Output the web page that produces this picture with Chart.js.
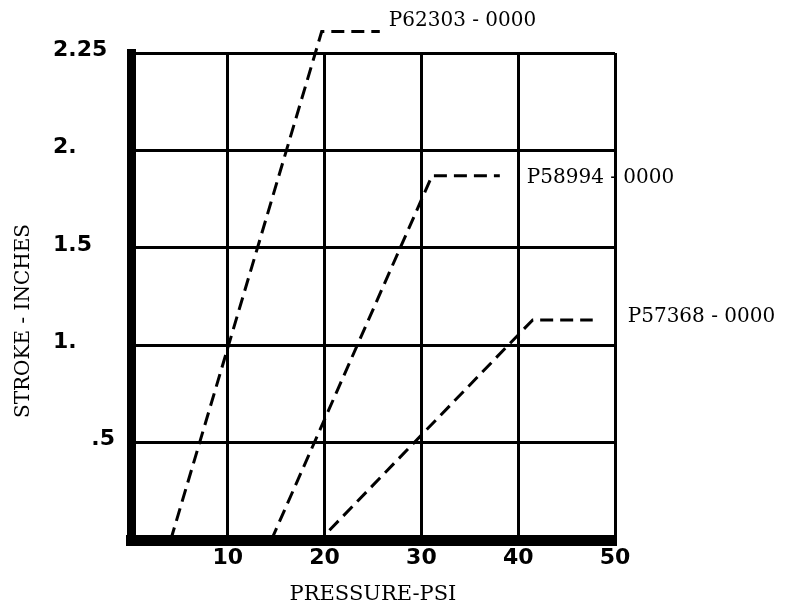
<!DOCTYPE html>
<html><head><meta charset="utf-8">
<script src="https://cdn.jsdelivr.net/npm/chart.js@4/dist/chart.umd.min.js"></script>
<style>html,body{margin:0;padding:0;background:#fff}canvas{display:block}</style>
</head><body>
<canvas id="c" width="787" height="614"></canvas>
<script>
// ---- data ----
const seriesNames = ['P62303 - 0000', 'P58994 - 0000', 'P57368 - 0000'];
const p62303Pressure = [4.1, 19.7, 25.7];
const p62303Stroke   = [0, 2.61, 2.61];
const p58994Pressure = [14.5, 31.1, 38.1];
const p58994Stroke   = [0, 1.87, 1.87];
const p57368Pressure = [20.5, 41.5, 47.7];
const p57368Stroke   = [0.05, 1.13, 1.13];
const xTickValues = [0, 10, 20, 30, 40, 50];
const xTickLabels = ['', '10', '20', '30', '40', '50'];
const yTickValues = [0, 0.5, 1, 1.5, 2, 2.5];
const yTickLabels = ['', '.5', '1.', '1.5', '2.', '2.25'];
const xTitle = 'PRESSURE-PSI';
const yTitle = 'STROKE - INCHES';

function toPoints(xs, ys) { return xs.map((x, i) => ({ x: x, y: ys[i] })); }

const seriesData = [
  toPoints(p62303Pressure, p62303Stroke),
  toPoints(p58994Pressure, p58994Stroke),
  toPoints(p57368Pressure, p57368Stroke)
];

const whiteBg = {
  id: 'whiteBg',
  beforeDraw(chart) {
    const c = chart.ctx; c.save(); c.fillStyle = '#fff';
    c.fillRect(0, 0, chart.width, chart.height); c.restore();
  }
};

const seriesLabels = {
  id: 'seriesLabels',
  afterDatasetsDraw(chart, args, opts) {
    const c = chart.ctx;
    c.save();
    c.font = opts.font;
    c.fillStyle = '#000';
    c.textAlign = 'left';
    c.textBaseline = 'middle';
    chart.data.datasets.forEach((ds, i) => {
      const pts = chart.getDatasetMeta(i).data;
      const last = pts[pts.length - 1];
      const off = opts.offsets[i];
      c.fillText(ds.label, last.x + off[0], last.y + off[1]);
    });
    // vertical axis title
    const a = chart.chartArea;
    c.translate(opts.yTitleX, a.bottom - opts.yTitleFromBottom);
    c.rotate(-Math.PI / 2);
    c.textAlign = 'center';
    c.fillText(yTitle, 0, 0);
    c.restore();
  }
};

const dashStyle = { borderColor: '#000', borderWidth: 3, borderDash: [13, 7], pointRadius: 0, tension: 0, fill: false, clip: false };

new Chart(document.getElementById('c'), {
  type: 'line',
  data: {
    datasets: seriesNames.map((n, i) => Object.assign({ label: n, data: seriesData[i] }, dashStyle))
  },
  options: {
    responsive: false,
    animation: false,
    events: [],
    layout: { padding: { left: 53, right: 172, top: 53, bottom: 0 } },
    plugins: {
      legend: { display: false },
      tooltip: { enabled: false },
      seriesLabels: {
        font: '20px "DejaVu Serif"',
        offsets: [[9, -11], [27, 2], [35, -3]],
        yTitleX: 24,
        yTitleFromBottom: 219
      }
    },
    scales: {
      x: {
        type: 'linear',
        min: 0, max: 50,
        afterBuildTicks(scale) { scale.ticks = xTickValues.map(v => ({ value: v })); },
        afterFit(scale) { scale.height = 74; },
        grid: { color: '#000', lineWidth: 3, drawTicks: false },
        border: { color: '#000', width: 11 },
        ticks: {
          color: '#000',
          padding: 5,
          font: { family: 'DejaVu Sans', weight: 'bold', size: 22 },
          callback(v) { const i = xTickValues.indexOf(v); return i >= 0 ? xTickLabels[i] : ''; }
        },
        title: {
          display: true, text: xTitle, color: '#000',
          font: { family: 'DejaVu Serif', size: 21 },
          padding: { top: 0, bottom: 7 }
        }
      },
      y: {
        type: 'linear',
        min: 0, max: 2.5,
        afterBuildTicks(scale) { scale.ticks = yTickValues.map(v => ({ value: v })); },
        afterFit(scale) { scale.width = 78; },
        grid: { color: '#000', lineWidth: 3, drawTicks: false },
        border: { color: '#000', width: 9 },
        ticks: {
          color: '#000',
          crossAlign: 'far',
          labelOffset: -3,
          font: { family: 'DejaVu Sans', weight: 'bold', size: 22 },
          callback(v) {
            const i = yTickValues.indexOf(v);
            const s = i >= 0 ? yTickLabels[i] : '';
            return s.charAt(0) === '.' ? '     ' + s : s;
          }
        }
      }
    }
  },
  plugins: [whiteBg, seriesLabels]
});
</script>
</body></html>
